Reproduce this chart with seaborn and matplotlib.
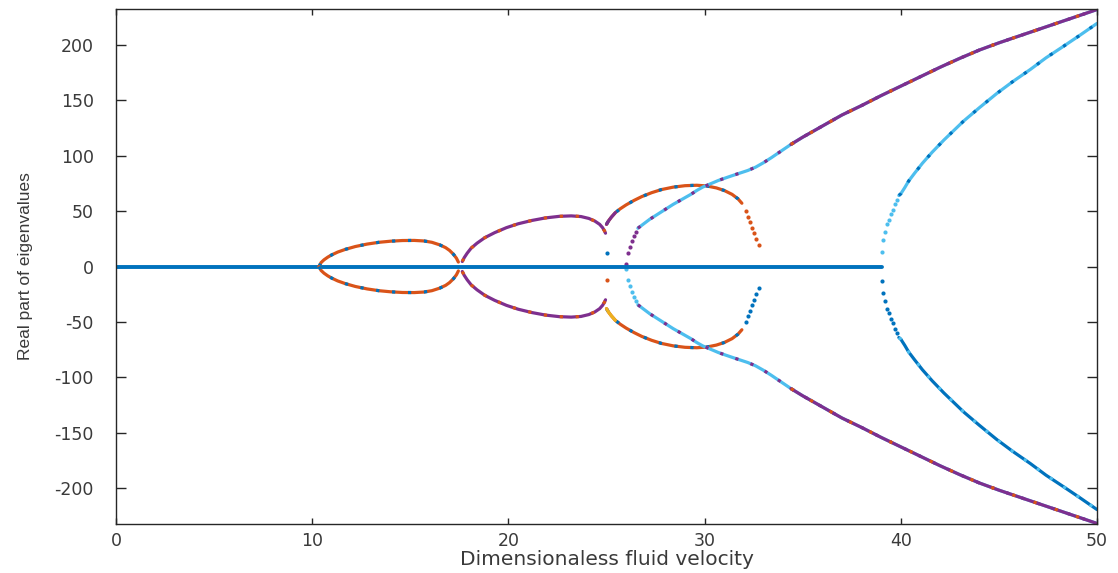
import numpy as np
import matplotlib
matplotlib.use("Agg")
import matplotlib.pyplot as plt
import seaborn as sns

# ---------------------------------------------------------------------------
# Colours (MATLAB default line order)
# ---------------------------------------------------------------------------
BLUE   = "#0072BD"
ORANGE = "#D95319"
YELLOW = "#EDB120"
PURPLE = "#7E2F8E"
CYAN   = "#4DBEEE"
AXCOL  = "#262626"
TXTCOL = "#3a3a3a"

# ---------------------------------------------------------------------------
# Data (upper half; eigenvalues come in +/- pairs)
# ---------------------------------------------------------------------------
zero_v = [0.0, 39.05]
zero_y = [0.0, 0.0]

loop1_v = [10.35, 10.45, 10.6, 10.8, 11.0, 11.3, 11.7, 12.2, 12.8, 13.4, 14.0,
           14.6, 15.2, 15.7, 16.1, 16.5, 16.8, 17.0, 17.2, 17.35, 17.45]
loop1_y = [0.0, 3.5, 6.0, 8.5, 10.5, 13.0, 15.5, 18.0, 20.2, 21.8, 22.8,
           23.4, 23.5, 23.0, 21.8, 19.5, 17.0, 14.5, 11.0, 7.5, 4.0]

loop2_v = [17.65, 17.75, 17.9, 18.1, 18.4, 18.8, 19.3, 19.9, 20.5, 21.2, 21.9,
           22.6, 23.2, 23.7, 24.1, 24.4, 24.65, 24.8, 24.9, 24.95]
loop2_y = [4.5, 8.0, 12.0, 16.5, 21.0, 26.0, 30.5, 35.0, 38.5, 41.5, 43.8,
           45.2, 45.6, 45.0, 43.3, 41.0, 38.0, 35.0, 32.0, 30.0]

c_v = [25.0, 25.1, 25.25, 25.45, 25.7, 26.0, 26.4, 26.8, 27.3, 27.8, 28.4,
       29.0, 29.6, 30.1, 30.6, 31.0, 31.4, 31.7, 31.9]
c_y = [38.0, 41.0, 44.5, 48.5, 52.0, 55.5, 59.5, 63.0, 66.5, 69.3, 71.5,
       72.8, 73.2, 72.6, 70.8, 68.5, 65.0, 61.0, 57.0]
c_tail_v = [32.1, 32.2, 32.3, 32.4, 32.5, 32.6, 32.75]
c_tail_y = [50.0, 45.0, 40.0, 35.0, 30.0, 25.0, 19.0]

d_tail_v = [26.0, 26.1, 26.2, 26.3, 26.4, 26.5]
d_tail_y = [2.7, 12.0, 18.0, 23.0, 27.5, 31.0]
d_v = [26.6, 26.9, 27.2, 27.6, 28.0, 28.4, 28.9, 29.3, 29.6, 29.9, 30.3, 30.7,
       31.1, 31.6, 32.2, 32.6, 33.0, 33.4, 33.9, 34.4, 35.0, 35.5, 36.0, 37.0,
       38.0, 39.0, 40.0, 41.0, 42.0, 43.0, 44.0, 45.0, 46.0, 47.0, 48.0, 49.0,
       50.0]
d_y = [34.5, 38.5, 42.5, 47.0, 51.5, 56.0, 61.0, 65.0, 68.5, 71.5, 74.5, 77.5,
       80.0, 83.0, 86.5, 89.5, 93.5, 98.0, 104.0, 110.0, 116.5, 121.5, 126.5,
       136.5, 145.0, 154.0, 162.5, 171.0, 179.5, 187.5, 195.0, 201.5, 207.5,
       213.5, 219.5, 225.5, 231.5]

e_tail_v = [39.05, 39.1, 39.2, 39.3, 39.4, 39.5, 39.6, 39.7, 39.8]
e_tail_y = [13.5, 24.0, 31.5, 38.0, 42.0, 47.0, 51.0, 56.0, 60.0]
e_v = [39.9, 40.0, 40.2, 40.4, 40.7, 41.1, 41.6, 42.2, 42.7, 43.2, 44.0, 44.9,
       45.7, 46.6, 47.4, 48.3, 49.1, 50.0]
e_y = [64.0, 65.5, 71.0, 77.0, 84.0, 93.0, 103.0, 114.0, 122.5, 131.0, 143.0,
       156.0, 166.5, 177.5, 188.0, 198.5, 208.0, 219.0]

iso_v = [25.0]
iso_y = [12.6]

X_TICKS = [0, 10, 20, 30, 40, 50]
Y_TICKS = [-200, -150, -100, -50, 0, 50, 100, 150, 200]


def draw_line(ax, v, y, color, lw=2.3, ls="-"):
    sns.lineplot(x=v, y=y, color=color, lw=lw, linestyle=ls, sort=False,
                 estimator=None, ax=ax, solid_capstyle="round")


def draw_dots(ax, v, y, color, s=9):
    sns.scatterplot(x=v, y=y, color=color, s=s, linewidth=0, ax=ax)


def branch(ax, v, y, base_up, acc_up, base_lo=None, acc_lo=None):
    v = np.asarray(v)
    y = np.asarray(y)
    base_lo = base_lo or base_up
    acc_lo = acc_lo or acc_up
    for sign, base, acc in ((1, base_up, acc_up), (-1, base_lo, acc_lo)):
        draw_line(ax, v, sign * y, base)
        if acc is not None:
            draw_line(ax, v, sign * y, acc, ls=(0, (1.0, 4.0)))


sns.set_theme(style="ticks")
plt.rcParams["font.family"] = ["DejaVu Sans"]
plt.rcParams["axes.unicode_minus"] = False

fig = plt.figure(figsize=(11.18, 5.73), dpi=100)
ax = fig.add_axes([116 / 1118, 1 - 524 / 573, (1097 - 116) / 1118, (524 - 9) / 573])

# zero eigenvalue line
draw_line(ax, zero_v, zero_y, BLUE, lw=2.8)

# bubbles
branch(ax, loop1_v, loop1_y, ORANGE, BLUE)
branch(ax, loop2_v, loop2_y, PURPLE, ORANGE)
branch(ax, c_v, c_y, ORANGE, BLUE)

# starts of the third bubble
cv = np.asarray(c_v)
cy = np.asarray(c_y)
m = cv <= 25.6
draw_line(ax, cv[m], cy[m], PURPLE)
draw_line(ax, cv[m], -cy[m], YELLOW)

# tails with visible separate samples
draw_dots(ax, c_tail_v, c_tail_y, ORANGE)
draw_dots(ax, c_tail_v, -np.asarray(c_tail_y), BLUE)
draw_dots(ax, d_tail_v, d_tail_y, PURPLE)
draw_dots(ax, d_tail_v, -np.asarray(d_tail_y), CYAN)
draw_dots(ax, e_tail_v, e_tail_y, CYAN)
draw_dots(ax, e_tail_v, -np.asarray(e_tail_y), BLUE)
draw_dots(ax, iso_v, iso_y, BLUE)
draw_dots(ax, iso_v, -np.asarray(iso_y), ORANGE)

# rising branches
branch(ax, d_v, d_y, CYAN, PURPLE)
dv = np.asarray(d_v)
dy = np.asarray(d_y)
m = dv >= 34.4
for sign in (1, -1):
    draw_line(ax, dv[m], sign * dy[m], PURPLE)
    draw_line(ax, dv[m], sign * dy[m], ORANGE, ls=(0, (1.0, 6.0)))

branch(ax, e_v, e_y, CYAN, BLUE, BLUE, CYAN)

# axes styling (MATLAB-like box)
ax.set_xlim(0, 50)
ax.set_ylim(-232, 232)
ax.set_xticks(X_TICKS)
ax.set_yticks(Y_TICKS)
ax.tick_params(axis="x", direction="in", length=4, width=1, color=AXCOL,
               top=True, labelsize=12.5, labelcolor=TXTCOL, pad=6)
ax.tick_params(axis="y", direction="in", length=7, width=1, color=AXCOL,
               right=True, labelsize=12.5, labelcolor=TXTCOL, pad=16)
for side in ax.spines.values():
    side.set_visible(True)
    side.set_color(AXCOL)
    side.set_linewidth(1.0)

ax.set_xlabel("Dimensionaless fluid velocity", fontsize=14.5, color=TXTCOL, labelpad=0)
ax.set_ylabel("Real part of eigenvalues", fontsize=12.5, color=TXTCOL,
              family=["Liberation Sans", "DejaVu Sans"])
ax.yaxis.set_label_coords(-(116 - 33) / 981, 0.5)
ax.set_facecolor("white")
fig.patch.set_facecolor("white")

fig.savefig("out.png", dpi=100)
